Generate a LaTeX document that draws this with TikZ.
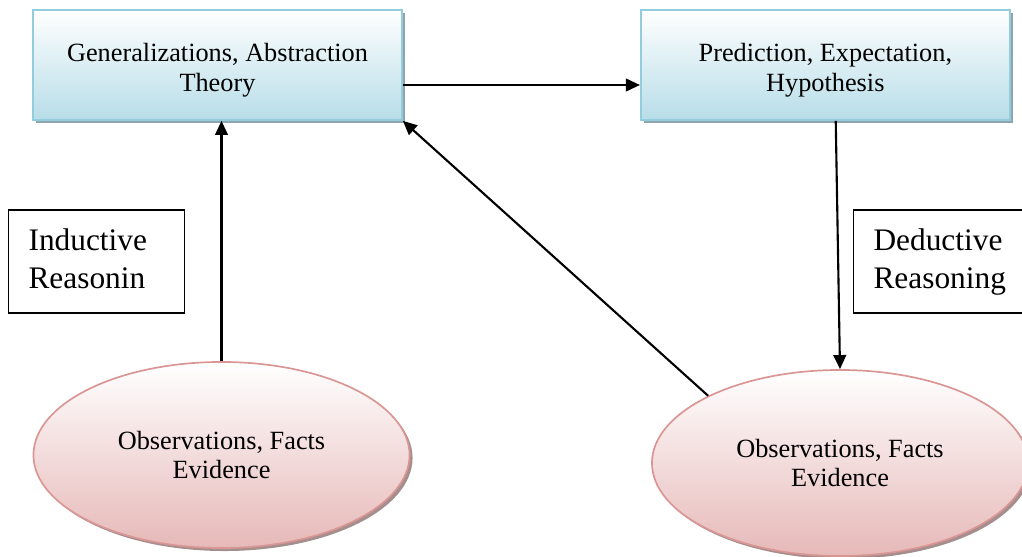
\documentclass[tikz,border=0pt]{standalone}
\usepackage{fontspec}
\setmainfont{Liberation Serif}
\usetikzlibrary{arrows.meta, positioning, calc, shadows, shapes.geometric}

\definecolor{boxline}{HTML}{93CDDD}
\definecolor{boxfill}{HTML}{B7DDE8}
\definecolor{boxshadow}{HTML}{8CA5AE}
\definecolor{ovalline}{HTML}{D99694}
\definecolor{ovalfill}{HTML}{E6B9B8}
\definecolor{ovalshadow}{HTML}{A58E8E}

\begin{document}
\begin{tikzpicture}[x=0.025cm, y=-0.025cm,
    stagebox/.style={draw=boxline, line width=1.2pt, top color=white, bottom color=boxfill, minimum width=9.225cm, minimum height=2.75cm, align=center, text height=41.5pt, font=\fontsize{18.7}{21.3}\selectfont, drop shadow={shadow xshift=0.075cm, shadow yshift=-0.075cm, fill=boxshadow, opacity=1}},
    obsoval/.style={ellipse, draw=ovalline, line width=1.2pt, top color=white, bottom color=ovalfill, minimum width=9.4cm, minimum height=4.65cm, align=center, font=\fontsize{18.7}{21.3}\selectfont, drop shadow={shadow xshift=0.075cm, shadow yshift=-0.075cm, fill=ovalshadow, opacity=1}},
    tagbox/.style={draw, line width=0.8pt, anchor=west, text width=3.4cm, inner xsep=0.5cm, minimum height=2.575cm, align=left, text height=16pt, text depth=32pt, font=\fontsize{22.3}{27}\selectfont},
    flow/.style={line width=1.5pt, -{Triangle[length=10pt, width=9pt]}}]
    \useasboundingbox (0,0) rectangle (1022,557);

    % Nodes
    \node[stagebox] (theory) at (217.5,65) {Generalizations, Abstraction\\Theory};
    \node[stagebox, right=5.925cm of theory] (predict) {Prediction, Expectation,\\Hypothesis};
    \node[tagbox] (induct) at (8,261.5) {Inductive\\Reasonin};
    \node[tagbox] (deduct) at (853,261.5) {Deductive\\Reasoning};
    \node[obsoval] (obsleft) at (221.5,455) {Observations, Facts\\Evidence};
    \node[obsoval] (obsright) at (840,463) {Observations, Facts\\Evidence};

    % Arrows
    \draw[flow] ($(theory.east)+(0,20)$) -- ($(predict.west)+(0,20)$);
    \draw[flow] ([xshift=0.26cm]predict.south) -- (obsright.north);
    \draw[flow] (obsright.153) -- (theory.south east);
    \draw[flow] (obsleft.north) -- (obsleft.north |- theory.south);
\end{tikzpicture}
\end{document}
